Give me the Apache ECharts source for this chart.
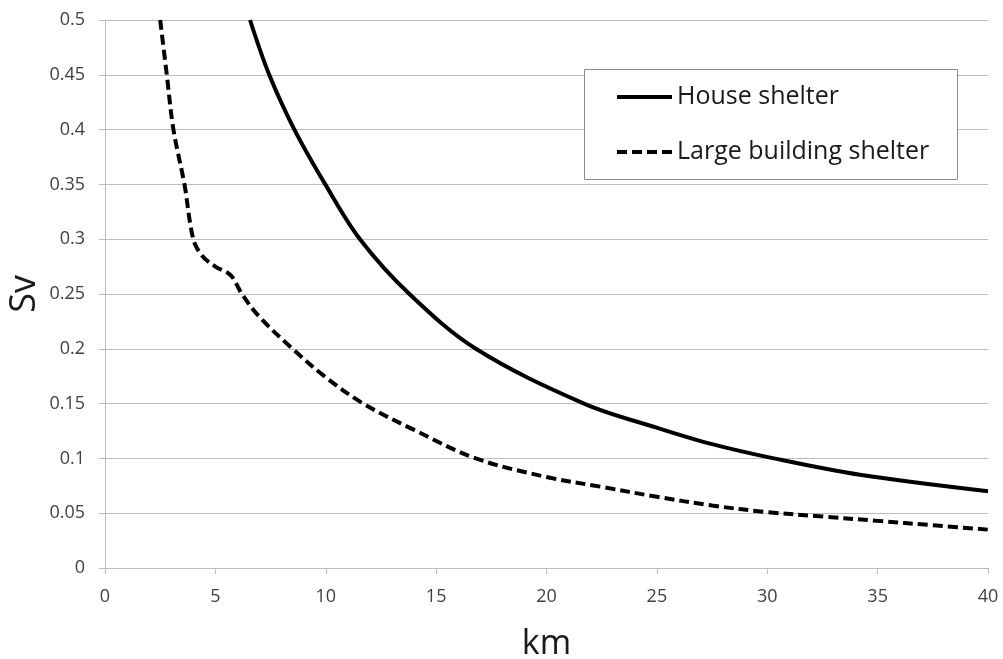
<!DOCTYPE html>
<html>
<head>
<meta charset="utf-8">
<script src="https://cdn.jsdelivr.net/npm/echarts@6/dist/echarts.min.js"></script>
<style>html,body{margin:0;padding:0;background:#fff}#c{width:1003px;height:659px}</style>
</head>
<body>
<div id="c"></div>
<script>
var seriesNames = ['House shelter', 'Large building shelter'];
var houseKm = [6.57, 7.44, 8.58, 9.98, 11.55, 13.79, 16.8, 21.7, 25, 27.5, 30.3, 34.2, 40];
var houseSv = [0.50, 0.45, 0.40, 0.35, 0.30, 0.25, 0.20, 0.15, 0.128, 0.113, 0.100, 0.085, 0.070];
var largeKm = [2.5, 2.8, 3.1, 3.6, 4.0, 4.4, 5.0, 5.7, 6.2, 7.0, 8.5, 10, 11.7, 14, 16.8, 20, 22.5, 25, 27.5, 30, 32.5, 35, 37.5, 40];
var largeSv = [0.50, 0.45, 0.40, 0.35, 0.30, 0.285, 0.275, 0.267, 0.25, 0.229, 0.20, 0.174, 0.15, 0.126, 0.10, 0.083, 0.074, 0.065, 0.057, 0.051, 0.047, 0.043, 0.039, 0.035];
var xName = 'km';
var yName = 'Sv';

function pairs(xs, ys) { return xs.map(function (x, i) { return [x, ys[i]]; }); }

var FONT = '"Open Sans", sans-serif';
var chart = echarts.init(document.getElementById('c'), null, {renderer: 'canvas'});
chart.setOption({
  animation: false,
  backgroundColor: '#fff',
  grid: {left: 105, right: 15, top: 20, bottom: 91, containLabel: false, outerBoundsMode: 'none'},
  graphic: [{
    type: 'rect', left: 584, top: 69, z: 100,
    shape: {width: 373, height: 110},
    style: {fill: '#fff', stroke: '#8a8a8a', lineWidth: 1}
  }],
  legend: {
    orient: 'vertical', left: 615, top: 82, padding: 0, z: 200,
    itemWidth: 55, itemHeight: 30, itemGap: 25,
    itemStyle: {opacity: 0},
    lineStyle: {width: 4},
    textStyle: {fontFamily: FONT, fontSize: 25, color: '#1a1a1a', lineHeight: 30},
    data: seriesNames
  },
  xAxis: {
    type: 'value', min: 0, max: 40, interval: 5,
    name: xName, nameLocation: 'middle', nameGap: 59, nameMoveOverlap: false,
    nameTextStyle: {fontFamily: FONT, fontSize: 34, color: '#1a1a1a'},
    axisLine: {show: true, lineStyle: {color: '#bcbcbc', width: 1}},
    axisTick: {show: true, inside: false, length: 6, lineStyle: {color: '#bcbcbc'}},
    axisLabel: {fontFamily: FONT, fontSize: 18, color: '#404040', margin: 20},
    splitLine: {show: false}
  },
  yAxis: {
    type: 'value', min: 0, max: 0.5, interval: 0.05,
    name: yName, nameLocation: 'middle', nameGap: 62, nameMoveOverlap: false,
    nameTextStyle: {fontFamily: FONT, fontSize: 36, color: '#1a1a1a'},
    axisLine: {show: true, lineStyle: {color: '#bcbcbc', width: 1}},
    axisTick: {show: true, inside: false, length: 6, lineStyle: {color: '#bcbcbc'}},
    axisLabel: {fontFamily: FONT, fontSize: 18, color: '#404040', margin: 20,
      formatter: function (v) { return String(Math.round(v * 100) / 100); }},
    splitLine: {show: true, lineStyle: {color: '#bcbcbc', width: 1}}
  },
  series: [{
    name: seriesNames[0], type: 'line', symbol: 'none', smooth: 0.35, z: 10,
    data: pairs(houseKm, houseSv),
    lineStyle: {color: '#000', width: 4, type: 'solid'},
    itemStyle: {color: '#000'}
  }, {
    name: seriesNames[1], type: 'line', symbol: 'none', smooth: 0.35, z: 10,
    data: pairs(largeKm, largeSv),
    lineStyle: {color: '#000', width: 4, type: [10, 5]},
    itemStyle: {color: '#000'}
  }]
});
</script>
</body>
</html>
